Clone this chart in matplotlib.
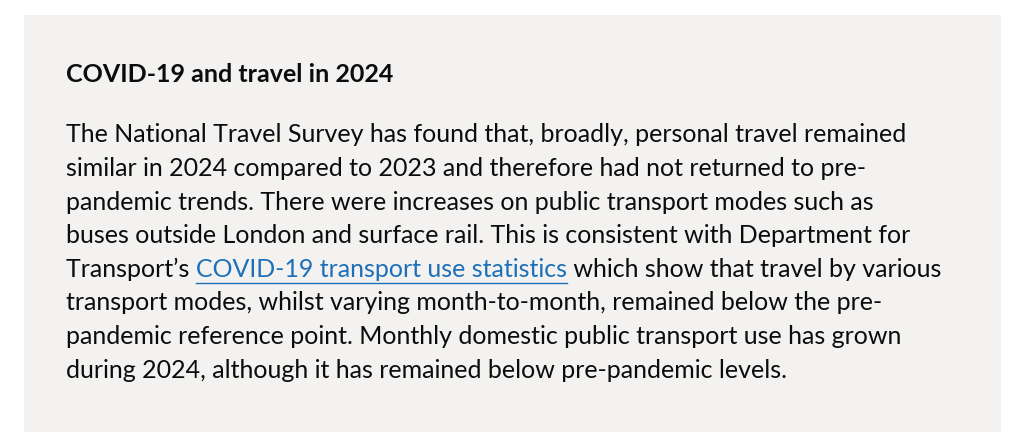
import matplotlib.pyplot as plt
from matplotlib.patches import Rectangle

title = "COVID-19 and travel in 2024"
lines = [
    "The National Travel Survey has found that, broadly, personal travel remained",
    "similar in 2024 compared to 2023 and therefore had not returned to pre-",
    "pandemic trends. There were increases on public transport modes such as",
    "buses outside London and surface rail. This is consistent with Department for",
    None,
    "transport modes, whilst varying month-to-month, remained below the pre-",
    "pandemic reference point. Monthly domestic public transport use has grown",
    "during 2024, although it has remained below pre-pandemic levels.",
]
link_line = ["Transport\u2019s ", "COVID-19 transport use statistics", " which show that travel by various"]

W, H = 1024, 446
fig = plt.figure(figsize=(W / 100, H / 100), dpi=100)
ax = fig.add_axes([0, 0, 1, 1])
ax.set_xlim(0, W)
ax.set_ylim(H, 0)
ax.axis('off')
ax.add_patch(Rectangle((24, 15), 977, 417, facecolor='#f3f2f1', edgecolor='none'))

font = 'Lato'
fs = 18.0
txtc = '#0b0c0c'
ax.text(66, 74, title, fontsize=18, fontweight='bold', family=font, color=txtc, va='center')

fig.canvas.draw()
r = fig.canvas.get_renderer()
y0, dy = 135, 33.6
for i, ln in enumerate(lines):
    y = y0 + i * dy
    if ln is not None:
        ax.text(66, y, ln, fontsize=fs, family=font, color=txtc, va='center')
        continue
    x = 66
    for j, part in enumerate(link_line):
        c = '#1d70b8' if j == 1 else txtc
        t = ax.text(x, y, part, fontsize=fs, family=font, color=c, va='center')
        bb = t.get_window_extent(renderer=r)
        w = bb.width
        if j == 1:
            ax.plot([x, x + w], [y + 14, y + 14], color=c, lw=1)
        x += w

fig.savefig('out.png', dpi=100)
